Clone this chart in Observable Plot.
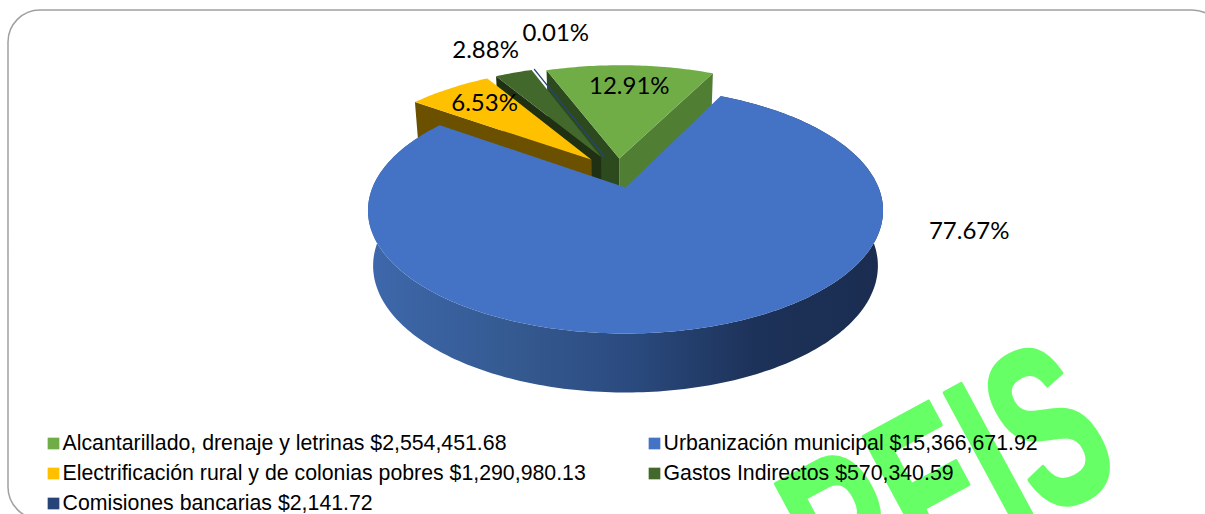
<!DOCTYPE html>
<html><head><meta charset="utf-8">
<script src="https://cdn.jsdelivr.net/npm/d3@7"></script>
<script src="https://cdn.jsdelivr.net/npm/@observablehq/plot@0.6"></script>
<style>html,body{margin:0;padding:0;background:#fff;overflow:hidden}svg{display:block}</style>
</head><body><div id="chart"></div>
<script>
const categories = ["Alcantarillado, drenaje y letrinas","Urbanización municipal","Electrificación rural y de colonias pobres","Gastos Indirectos","Comisiones bancarias"];
const amounts = [2554451.68,15366671.92,1290980.13,570340.59,2141.72];
const topColors = ["#70AD47","#4472C4","#FFC000","#43682B","#264478"];
const leftWallColors = ["#2D4A1E","#2F5597","#6B5000","#1F3013","#111F38"];
const greenRightWall = "#507E32";
const explosions = [0.13,0.13,0.16,0.16,0.16];
const rimRadii = [1.02,1,1.01,1.01,1.01];
// label placement in disc polar coordinates (degrees clockwise from north, radius)
const labelAngles = [1,105.3,321.8,334.4,348];
const labelRadii = [1.012,1.317,1.038,1.632,1.751];

const W=1205,H=514;
const total=d3.sum(amounts);
const startAngle=-20.5;
const cx=625,cy=187,Sx=253,Sy=118.7,p=0.187;
const rad=a=>a*Math.PI/180;
function project(X,Y,bottom){
  const w=1-p*Y; let sx=Sx*X/w, sy=Sy*Y/w;
  if(bottom){sx*=0.98; sy=sy*1.03+54.6;}
  return {x:cx+sx,y:cy+sy};
}
const polar=(a,r)=>[r*Math.sin(rad(a)),-r*Math.cos(rad(a))];
let acc=startAngle;
const slices=amounts.map((v,i)=>{
  const a0=acc,a1=acc+v/total*360; acc=a1;
  return {i,a0,a1,mid:(a0+a1)/2,r:rimRadii[i]};
});
// The blue slice's apex is the projection origin; every apex shifts along its bisector
const [bx,by]=polar(slices[1].mid,explosions[1]);
slices.forEach((s,i)=>{const [dx,dy]=polar(s.mid,explosions[i]);s.ax=dx-bx;s.ay=dy-by;});
function rim(s,a){const [X,Y]=polar(a,s.r);return [s.ax+X,s.ay+Y];}
function arc(s,bottom){
  const n=Math.max(2,Math.ceil(s.a1-s.a0)),pts=[];
  for(let k=0;k<=n;k++){const [X,Y]=rim(s,s.a0+(s.a1-s.a0)*k/n);pts.push(project(X,Y,bottom));}
  return pts;
}
const topFace=s=>[project(s.ax,s.ay,false),...arc(s,false)];
function wall(s,a){
  const [X,Y]=rim(s,a);
  return [project(s.ax,s.ay,false),project(X,Y,false),project(X,Y,true),project(s.ax,s.ay,true)];
}
const sideBand=s=>[...arc(s,false),...arc(s,true).reverse()];
const poly=(pts,fill,extra={})=>Plot.line(pts,{x:"x",y:"y",fill,stroke:"none",curve:"linear",...extra});

const [green,blue,yellow,dark,navy]=slices;
const sliceMarks=[
  poly(wall(green,green.a1),greenRightWall),
  poly(wall(green,green.a0),leftWallColors[0]),
  poly(topFace(navy),topColors[4],{stroke:topColors[4],strokeWidth:1.3}),
  poly(wall(dark,dark.a0),leftWallColors[3]),
  poly(topFace(dark),topColors[3]),
  poly(wall(yellow,yellow.a0),leftWallColors[2]),
  poly(topFace(yellow),topColors[2]),
  poly(topFace(green),topColors[0]),
  poly(sideBand(blue),"url(#sideGrad)"),
  poly(topFace(blue),topColors[1])
];
const labels=slices.map((s,i)=>{
  const [X,Y]=polar(labelAngles[i],labelRadii[i]);
  return {...project(X,Y,false),t:(amounts[i]/total*100).toFixed(2)+"%"};
});
const legendRows=categories.map((c,k)=>({
  color:topColors[k],col:k%2,row:Math.floor(k/2),
  text:c+" $"+d3.format(",.2f")(amounts[k])
}));
const legendX=r=>r.col?648:47, legendY=r=>443+r.row*30;

const defs=()=>{
  const s=d3.create("svg:g");
  const g=s.append("defs").append("linearGradient").attr("id","sideGrad").attr("gradientUnits","userSpaceOnUse")
    .attr("x1",368).attr("x2",883).attr("y1",0).attr("y2",0);
  [[0,"#3E68AC"],[0.3,"#34598F"],[0.5,"#2B4B80"],[0.75,"#1D3259"],[1,"#1A2C50"]].forEach(([o,c])=>g.append("stop").attr("offset",o).attr("stop-color",c));
  return s.node();
};
// condensed heavy watermark: Plot's rotated text, narrowed horizontally
const narrow=(index,scales,values,dims,ctx,next)=>{
  const g=next(index,scales,values,dims,ctx);
  g.querySelectorAll("text").forEach(t=>t.setAttribute("transform",(t.getAttribute("transform")||"")+" scale(0.6,1)"));
  return g;
};
const plot=Plot.plot({
  width:W,height:H,margin:0,
  x:{domain:[0,W],axis:null},y:{domain:[H,0],axis:null},
  style:{background:"#fff"},
  marks:[
    defs,
    Plot.rect([0],{x1:()=>8,x2:()=>1224,y1:()=>10,y2:()=>519,rx:32,fill:"none",stroke:"#A0A0A0",strokeWidth:1.5}),
    Plot.text(["REIS"],{x:()=>984,y:()=>551,text:d=>d,rotate:-28.4,lineAnchor:"bottom",fontSize:230,fontWeight:"bold",fontFamily:"Liberation Sans",fill:"#66FF66",stroke:"#66FF66",strokeWidth:4.5,render:narrow}),
    ...sliceMarks,
    Plot.text(labels,{x:"x",y:"y",text:"t",fontFamily:"Lato",fontSize:24,fill:"#000"}),
    Plot.dot(legendRows,{x:d=>legendX(d)+6,y:legendY,symbol:"square",r:6.6,fill:"color",stroke:"none"}),
    Plot.text(legendRows,{x:d=>legendX(d)+15,y:legendY,text:"text",textAnchor:"start",fontFamily:"Liberation Sans",fontSize:21.3,fill:"#000"})
  ]
});
document.getElementById("chart").append(plot);
</script></body></html>
